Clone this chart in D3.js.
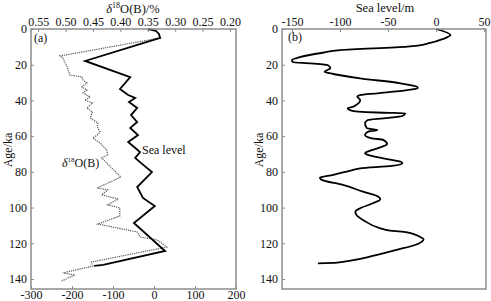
<!DOCTYPE html>
<html>
<head>
<meta charset="utf-8">
<script src="https://cdn.jsdelivr.net/npm/d3@7"></script>
<style>
  body { margin: 0; background: #fff; }
</style>
</head>
<body>
<div id="chart"></div>
<script>
// ages & tick labels
var ageTicks = [0, 20, 40, 60, 80, 100, 120, 140];
var d18oTicks = [0.55, 0.50, 0.45, 0.40, 0.35, 0.30, 0.25, 0.20];
var seaTicksA = [-300, -200, -100, 0, 100, 200];
var seaTicksB = [-150, -100, -50, 0, 50];

// (a) sea level (solid, bottom axis)
var seaAAge = [0, 1.1, 2.8, 5.0, 17.9, 26.9, 33.6, 37.0, 38.6, 40.9, 44.2, 48.2, 52.1, 55.4, 59.4, 63.3,
               68.9, 72.2, 75.0, 80.1, 88.5, 94.6, 99.1, 108.6, 124.3, 132.1, 132.7];
var seaAVal = [-15, 5, 12, 15, -168, -58, -83, -63, -46, -61, -41, -56, -41, -58, -39, -63,
               -34, -46, -32, -5, -41, -27, 2, -49, 27, -124, -146];

// (a) d18O(B) (dotted, top axis)
var d18oAge = [5.0, 15.1, 16.2, 21.3, 25.8, 26.9, 28.6, 30.2, 32.5, 34.2, 35.8, 38.1, 39.8, 41.4, 44.2,
               46.5, 49.8, 52.6, 54.9, 57.7, 59.4, 61.0, 63.8, 67.7, 70.5, 72.2, 75.0, 82.9, 89.0, 90.1,
               92.9, 95.2, 98.5, 100.2, 104.7, 109.2, 113.7, 116.5, 118.1, 122.1, 130.5, 132.7, 136.6,
               137.7, 141.1];
var d18oVal = [0.327, 0.510, 0.505, 0.497, 0.492, 0.470, 0.468, 0.461, 0.470, 0.461, 0.468, 0.455, 0.465,
               0.451, 0.461, 0.451, 0.455, 0.441, 0.442, 0.437, 0.442, 0.450, 0.437, 0.425, 0.423, 0.434,
               0.425, 0.399, 0.442, 0.423, 0.434, 0.404, 0.423, 0.401, 0.401, 0.441, 0.369, 0.364, 0.333,
               0.315, 0.453, 0.450, 0.505, 0.483, 0.507];

// (b) sea level /m
var seaBAge = [0, 3.4, 5.6, 7.8, 9.9, 11.8, 13.3, 15.8, 17.4, 18.6, 19.2, 20.2, 22.0, 23.9, 25.2, 27.6,
               30.4, 32.3, 33.2, 34.2, 36.0, 37.0, 37.9, 39.8, 43.5, 44.4, 45.9, 46.9, 47.2, 48.7, 50.0,
               51.0, 52.8, 55.6, 56.6, 57.5, 59.4, 61.2, 62.1, 64.4, 66.8, 67.7, 69.6, 70.5, 72.4, 74.3,
               75.2, 76.7, 78.0, 79.3, 81.7, 83.3, 84.5, 87.3, 91.1, 93.9, 95.4, 97.6, 100.4, 102.3,
               104.1, 106.9, 111.6, 112.9, 113.5, 116.3, 117.8, 120.4, 123.7, 127.1, 129.7, 130.8, 131.2];
var seaBVal = [0, 15, 7, -6, -30, -100, -118, -142, -150, -149, -131, -113, -110, -116, -107, -79,
               -37, -20, -19, -30, -61, -79, -82, -79, -86, -92, -87, -55, -32, -35, -55,
               -71, -74, -72, -61, -71, -74, -67, -55, -51, -61, -66, -74, -71, -55, -37,
               -35, -46, -79, -89, -107, -121, -119, -97, -76, -60, -58, -66, -79, -84,
               -83, -76, -58, -48, -35, -17, -13, -19, -41, -66, -89, -103, -123];

var width = 491, height = 301;
var frameColor = "#8c8c8c";
var serif = '"Liberation Serif", "Times New Roman", "DejaVu Serif", serif';

var svg = d3.select("#chart").append("svg")
    .attr("width", width)
    .attr("height", height);

// scales
var y = d3.scaleLinear().domain([0, 145.6]).range([29, 289]);
var xBottomA = d3.scaleLinear().domain([-300, 200]).range([31, 236]);
var xTopA = d3.scaleLinear().domain([0.563, 0.189]).range([31, 236]);
var xB = d3.scaleLinear().domain([-160.4, 52]).range([282, 486]);

function styleAxis(g) {
    g.attr("font-family", null).attr("font-size", null);
    g.select(".domain").remove();
    g.selectAll(".tick line").attr("stroke", frameColor).attr("stroke-width", 1);
    g.selectAll(".tick text").style("font-size", "12px").attr("fill", "#111");
}

// ---------- panel (a) ----------
svg.append("g")
    .attr("transform", "translate(31,0)")
    .call(d3.axisLeft(y).tickValues(ageTicks).tickSize(-3).tickPadding(4).tickFormat(function(d){ return d; }))
    .call(styleAxis);

svg.append("g")
    .attr("transform", "translate(0,29)")
    .call(d3.axisTop(xTopA).tickValues(d18oTicks).tickSize(-3).tickPadding(3).tickFormat(function(d){ return d.toFixed(2); }))
    .call(styleAxis);

svg.append("g")
    .attr("transform", "translate(0,289)")
    .call(d3.axisBottom(xBottomA).tickValues(seaTicksA).tickSize(-3).tickPadding(1).tickFormat(function(d){ return String(d); }))
    .call(styleAxis);

var lineD18o = d3.line()
    .x(function(d, i){ return xTopA(d18oVal[i]); })
    .y(function(d){ return y(d); });

svg.append("path")
    .attr("d", lineD18o(d18oAge))
    .attr("fill", "none")
    .attr("stroke", "#555")
    .attr("stroke-width", 1.2)
    .attr("stroke-dasharray", "1.2,1");

var lineSeaA = d3.line()
    .x(function(d, i){ return xBottomA(seaAVal[i]); })
    .y(function(d){ return y(d); });

svg.append("path")
    .attr("d", lineSeaA(seaAAge))
    .attr("fill", "none")
    .attr("stroke", "#000")
    .attr("stroke-width", 1.8)
    .attr("stroke-linejoin", "miter");

svg.append("rect")
    .attr("x", 31).attr("y", 29)
    .attr("width", 205).attr("height", 260)
    .attr("fill", "none")
    .attr("stroke", frameColor)
    .attr("stroke-width", 1.5);

svg.append("text").attr("x", 34).attr("y", 42).style("font-size", "12px").text("(a)");
svg.append("text").attr("x", 142).attr("y", 154).style("font-size", "12px").text("Sea level");

var lblD = svg.append("text").attr("x", 62).attr("y", 167).style("font-size", "12px");
lblD.append("tspan").style("font-style", "italic").text("δ");
lblD.append("tspan").attr("dy", -5).style("font-size", "7px").text("18");
lblD.append("tspan").attr("dy", 5).text("O(B)");

var titleA = svg.append("text").attr("x", 133).attr("y", 13)
    .attr("text-anchor", "middle").style("font-size", "12.5px");
titleA.append("tspan").style("font-style", "italic").text("δ");
titleA.append("tspan").attr("dy", -5).style("font-size", "8px").text("18");
titleA.append("tspan").attr("dy", 5).text("O(B)/%");

svg.append("text")
    .attr("transform", "translate(12,150) rotate(-90)")
    .attr("text-anchor", "middle").style("font-size", "12px")
    .text("Age/ka");

// ---------- panel (b) ----------
svg.append("g")
    .attr("transform", "translate(282,0)")
    .call(d3.axisLeft(y).tickValues(ageTicks).tickSize(-3).tickPadding(4).tickFormat(function(d){ return d; }))
    .call(styleAxis);

svg.append("g")
    .attr("transform", "translate(0,29)")
    .call(d3.axisTop(xB).tickValues(seaTicksB).tickSize(-3).tickPadding(3).tickFormat(function(d){ return String(d); }))
    .call(styleAxis);

var lineSeaB = d3.line()
    .x(function(d, i){ return xB(seaBVal[i]); })
    .y(function(d){ return y(d); })
    .curve(d3.curveMonotoneY);

svg.append("path")
    .attr("d", lineSeaB(seaBAge))
    .attr("fill", "none")
    .attr("stroke", "#000")
    .attr("stroke-width", 1.8);

svg.append("rect")
    .attr("x", 282).attr("y", 29)
    .attr("width", 204).attr("height", 260)
    .attr("fill", "none")
    .attr("stroke", frameColor)
    .attr("stroke-width", 1.5);

svg.append("text").attr("x", 288).attr("y", 41).style("font-size", "12px").text("(b)");

svg.append("text").attr("x", 385).attr("y", 12)
    .attr("text-anchor", "middle").style("font-size", "12.5px")
    .text("Sea level/m");

svg.append("text")
    .attr("transform", "translate(263,150) rotate(-90)")
    .attr("text-anchor", "middle").style("font-size", "12px")
    .text("Age/ka");

// serif everywhere, as in the original figure
svg.selectAll("text").style("font-family", serif).attr("fill", "#111");
</script>
</body>
</html>
